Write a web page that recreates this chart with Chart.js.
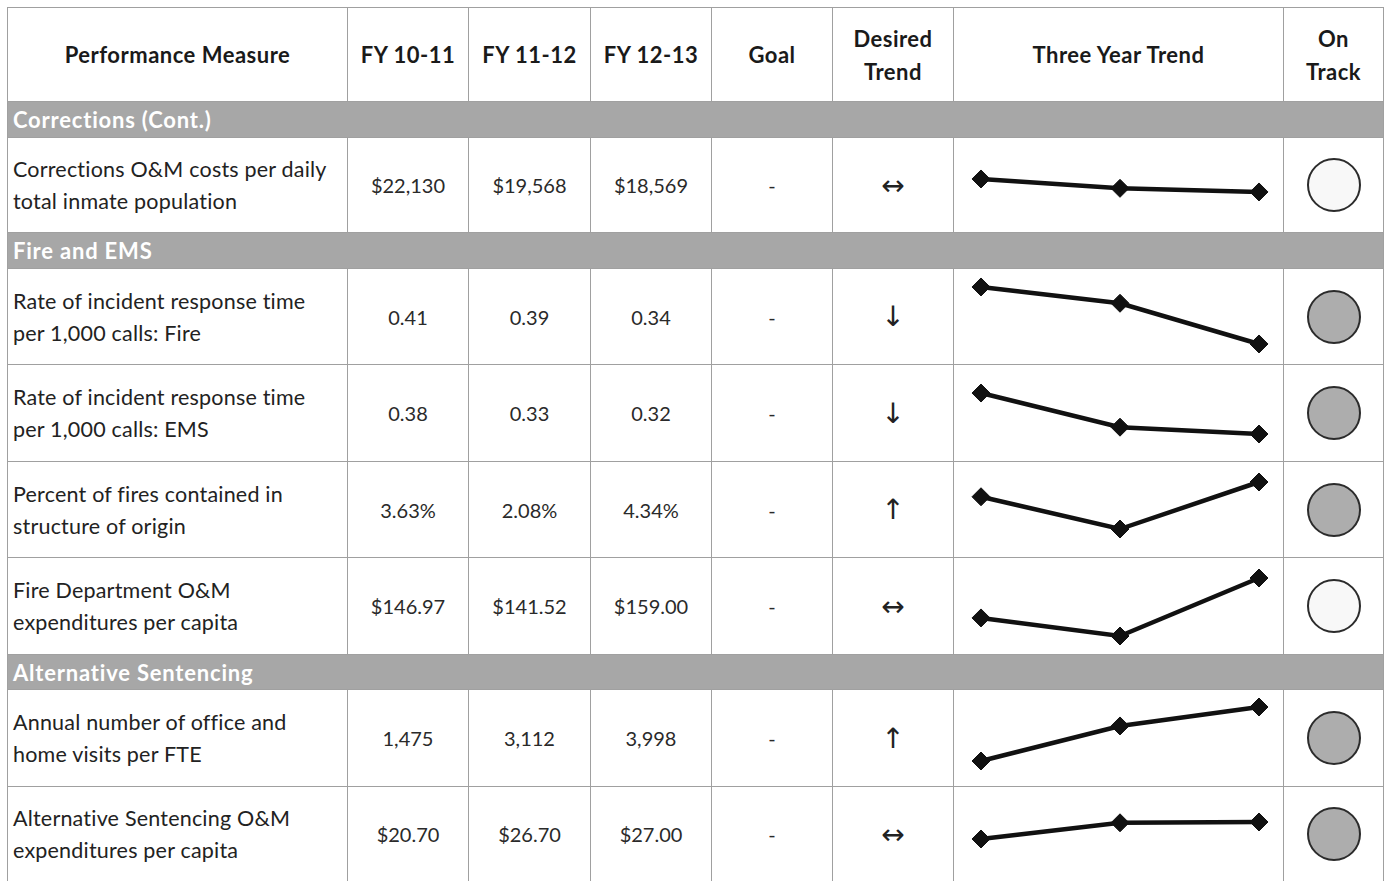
<!DOCTYPE html>
<html>
<head>
<meta charset="utf-8">
<script src="https://cdn.jsdelivr.net/npm/chart.js@4.4.0/dist/chart.umd.min.js"></script>
<style>
  html, body { margin: 0; padding: 0; background: #fff; }
  body { width: 1388px; height: 881px; position: relative; overflow: hidden; font-family: Lato, "Open Sans", sans-serif; color: #222; }
  .cell { position: absolute; box-sizing: border-box; border: 1px solid #a0a0a0; display: flex; align-items: center; justify-content: center; text-align: center; }
  .head { font-weight: bold; font-size: 22px; line-height: 33px; letter-spacing: 0.5px; color: #1a1a1a; }
  .band { background: #a7a7a7; color: #fff; font-weight: bold; font-size: 22px; letter-spacing: 0.8px; justify-content: flex-start; padding-left: 5px; }
  .measure { justify-content: flex-start; text-align: left; font-size: 21.5px; line-height: 32px; padding-left: 5px; letter-spacing: 0.2px; }
  .num { font-size: 20px; color: #2a2a2a; }
  .arrow { font-family: "DejaVu Sans", sans-serif; font-size: 28px; color: #222; }
  .dot { width: 54px; height: 54px; border-radius: 50%; box-sizing: border-box; border: 2px solid #2b2b2b; }
  canvas.spark { position: absolute; }
</style>
</head>
<body>
<script>
// Table data
const headers = ['Performance Measure', 'FY 10-11', 'FY 11-12', 'FY 12-13', 'Goal', 'Desired<br>Trend', 'Three Year Trend', 'On<br>Track'];
const years = ['FY 10-11', 'FY 11-12', 'FY 12-13'];
const sections = ['Corrections (Cont.)', 'Fire and EMS', 'Alternative Sentencing'];
const measures = [
    'Corrections O&M costs per daily<br>total inmate population',
    'Rate of incident response time<br>per 1,000 calls: Fire',
    'Rate of incident response time<br>per 1,000 calls: EMS',
    'Percent of fires contained in<br>structure of origin',
    'Fire Department O&M<br>expenditures per capita',
    'Annual number of office and<br>home visits per FTE',
    'Alternative Sentencing O&M<br>expenditures per capita'
];
const measureSection = [0, 1, 1, 1, 1, 2, 2];
const fy1011 = [22130, 0.41, 0.38, 3.63, 146.97, 1475, 20.70];
const fy1112 = [19568, 0.39, 0.33, 2.08, 141.52, 3112, 26.70];
const fy1213 = [18569, 0.34, 0.32, 4.34, 159.00, 3998, 27.00];
const valueFormat = ['dollar0', 'dec2', 'dec2', 'pct', 'dollar2', 'int', 'dollar2'];
const goals = ['-', '-', '-', '-', '-', '-', '-'];
const desiredTrend = ['↔', '↓', '↓', '↑', '↔', '↑', '↔'];
const onTrack = [false, true, true, true, false, true, true];
// sparkline axis ranges (each sparkline has its own vertical scale)
const trendMin = [7600, 0.3154, 0.2805, 0.734, 136.1, 307, 5.13];
const trendMax = [33630, 0.4333, 0.4225, 5.35, 165.33, 4839, 40.34];

// Layout
const colEdges = [7, 347, 468, 590, 711, 832, 953, 1283, 1383];
const headerTop = 7, headerBottom = 101;
const bandHeights = [36, 36, 35];
const measureHeights = [95, 96, 97, 96, 97, 97, 95];

function fmt(v, kind) {
    if (kind === 'dollar0') return '$' + v.toLocaleString('en-US');
    if (kind === 'dollar2') return '$' + v.toFixed(2);
    if (kind === 'dec2') return v.toFixed(2);
    if (kind === 'pct') return v.toFixed(2) + '%';
    return v.toLocaleString('en-US');
}

function addCell(x, y, w, h, cls, html) {
    const d = document.createElement('div');
    d.className = 'cell ' + cls;
    d.style.left = x + 'px';
    d.style.top = y + 'px';
    d.style.width = (w + 1) + 'px';
    d.style.height = (h + 1) + 'px';
    d.innerHTML = html;
    document.body.appendChild(d);
    return d;
}

// Header row
headers.forEach((h, i) => {
    addCell(colEdges[i], headerTop, colEdges[i + 1] - colEdges[i], headerBottom - headerTop, 'head', h);
});

let y = headerBottom;
let lastSection = -1;
measures.forEach((m, r) => {
    const s = measureSection[r];
    if (s !== lastSection) {
        const bh = bandHeights[s];
        addCell(colEdges[0], y, colEdges[colEdges.length - 1] - colEdges[0], bh, 'band', sections[s]);
        y += bh;
        lastSection = s;
    }
    const h = measureHeights[r];
    const vals = [fy1011[r], fy1112[r], fy1213[r]];
    addCell(colEdges[0], y, colEdges[1] - colEdges[0], h, 'measure', m);
    vals.forEach((v, k) => {
        addCell(colEdges[k + 1], y, colEdges[k + 2] - colEdges[k + 1], h, 'num', fmt(v, valueFormat[r]));
    });
    addCell(colEdges[4], y, colEdges[5] - colEdges[4], h, 'num', goals[r]);
    addCell(colEdges[5], y, colEdges[6] - colEdges[5], h, 'arrow', desiredTrend[r]);
    addCell(colEdges[6], y, colEdges[7] - colEdges[6], h, '', '');
    const trackCell = addCell(colEdges[7], y, colEdges[8] - colEdges[7], h, '', '');
    const dot = document.createElement('div');
    dot.className = 'dot';
    dot.style.background = onTrack[r] ? '#adadad' : '#f8f8f8';
    trackCell.appendChild(dot);

    // Three year trend sparkline
    const canvas = document.createElement('canvas');
    canvas.className = 'spark';
    canvas.width = colEdges[7] - colEdges[6];
    canvas.height = h;
    canvas.style.left = colEdges[6] + 'px';
    canvas.style.top = y + 'px';
    document.body.appendChild(canvas);
    new Chart(canvas, {
        type: 'line',
        data: {
            labels: years,
            datasets: [{
                data: vals,
                borderColor: '#111',
                borderWidth: 4.5,
                pointStyle: 'rectRot',
                pointRadius: 9,
                pointBackgroundColor: '#111',
                pointBorderColor: '#111',
                pointBorderWidth: 1,
                tension: 0,
                clip: false
            }]
        },
        options: {
            responsive: false,
            animation: false,
            layout: { autoPadding: false, padding: { left: 28, right: 24, top: 0, bottom: 0 } },
            plugins: { legend: { display: false }, tooltip: { enabled: false } },
            scales: {
                x: { display: false, offset: false },
                y: { display: false, min: trendMin[r], max: trendMax[r] }
            }
        }
    });
    y += h;
});
</script>
</body>
</html>
